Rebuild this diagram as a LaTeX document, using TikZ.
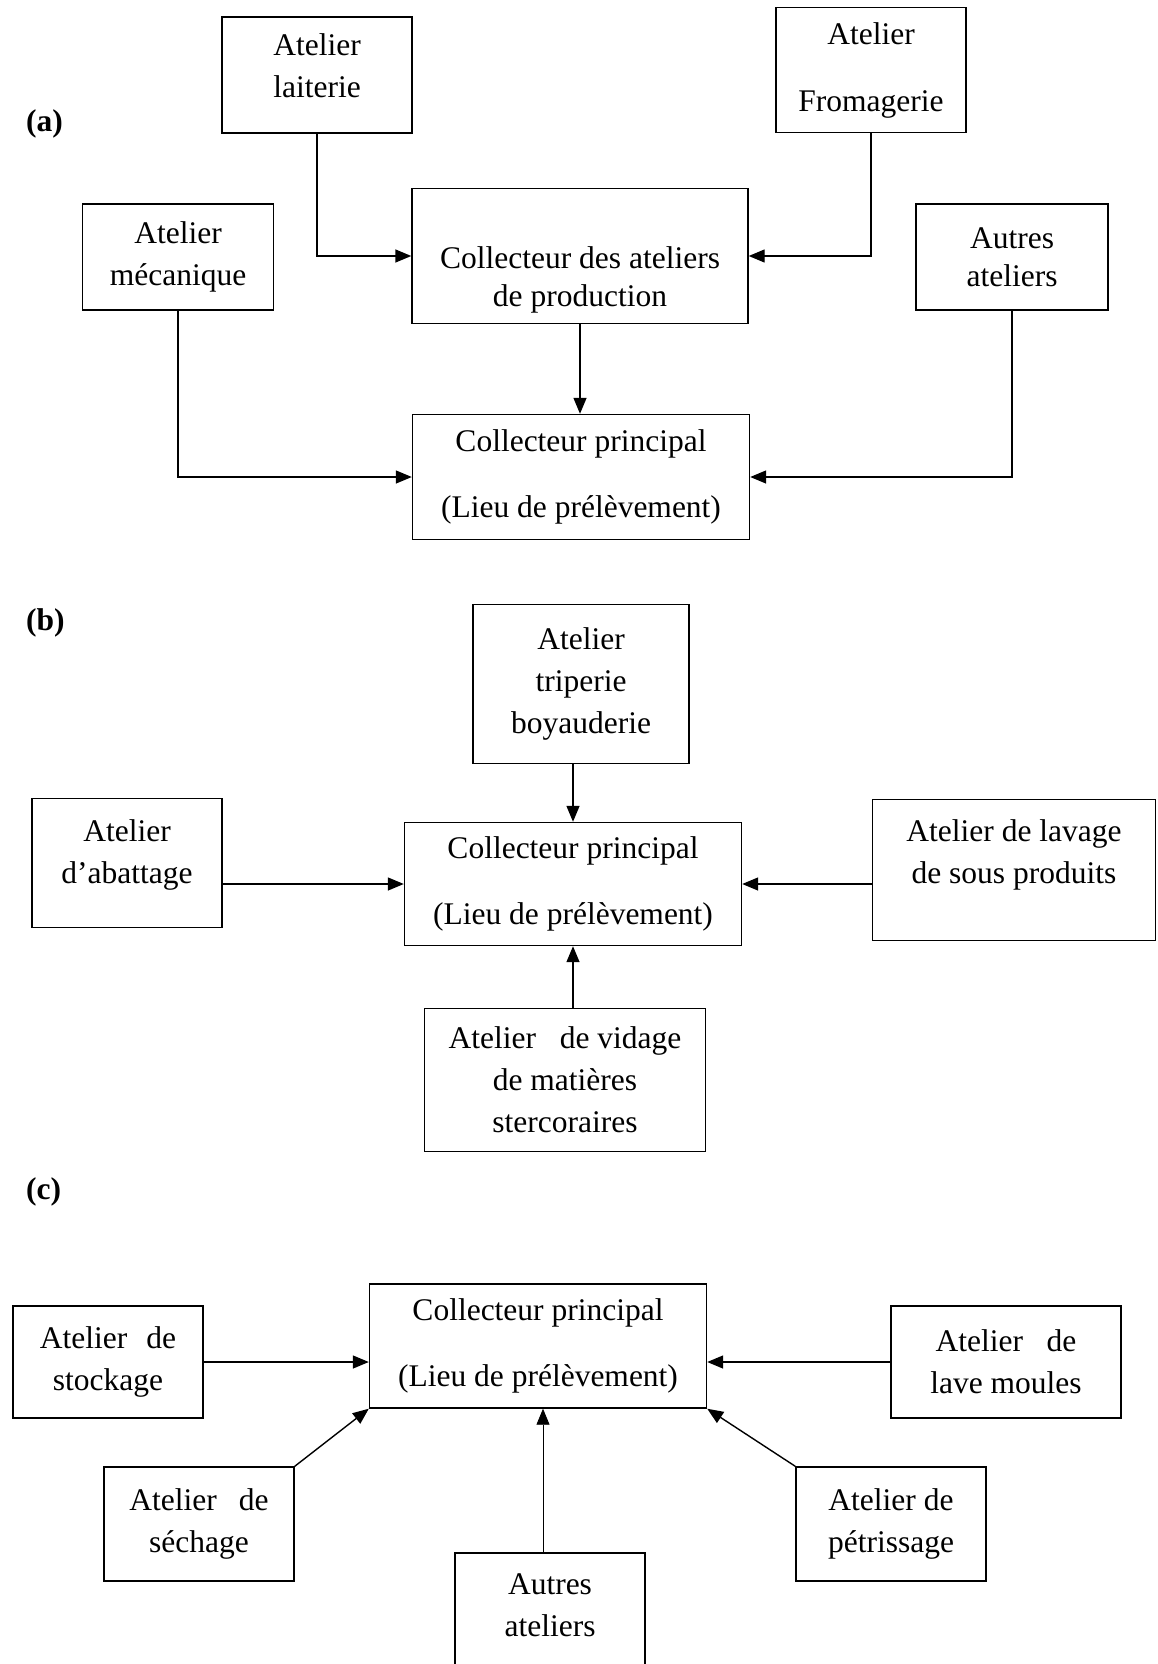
\documentclass[tikz,border=0pt]{standalone}
\usepackage{fontspec}
\setmainfont{Liberation Serif}
\usetikzlibrary{arrows.meta}

\begin{document}
\begin{tikzpicture}[x=1pt,y=-1pt,
  every node/.style={font=\fontsize{31.5}{42}\selectfont},
  box/.style={draw,line width=1.4pt,align=center,inner sep=0pt},
  txt/.style={align=center,inner sep=0pt},
  lab/.style={anchor=west,inner sep=0pt,font=\fontsize{31.5}{42}\selectfont\bfseries},
  flow/.style={line width=1.4pt,-{Triangle[length=16pt,width=13pt]}}]
\useasboundingbox (0,0) rectangle (1157,1664);
% (a)
\node[lab] (la) at (26,124) {(a)};
\node[box,minimum width=190pt,minimum height=116pt] (Laiterie) at (317,75) {Atelier\\laiterie\rule[-19pt]{0pt}{19pt}};
\node[box,minimum width=190pt,minimum height=125pt] (Fromagerie) at (871,70) {Atelier\\[25pt]Fromagerie};
\node[box,minimum width=191pt,minimum height=106pt] (Mecanique) at (178,257) {Atelier\\mécanique};
\node[box,minimum width=336pt,minimum height=135pt] (CollProd) at (580,256) {\rule{0pt}{70pt}Collecteur des ateliers\\[-4pt]de production};
\node[box,minimum width=192pt,minimum height=106pt] (AutresA) at (1012,257) {Autres\\[-4pt]ateliers};
\node[box,minimum width=337pt,minimum height=125pt] (PrincA) at (581,477) {Collecteur principal\\[24pt](Lieu de prélèvement)};
\draw[flow] (Laiterie) |- (CollProd);
\draw[flow] (Fromagerie) |- (CollProd);
\draw[flow] (CollProd.south) -- (CollProd.south |- PrincA.north);
\draw[flow] (Mecanique) |- (PrincA);
\draw[flow] (AutresA) |- (PrincA);
% (b)
\node[lab] (lb) at (26,623) {(b)};
\node[box,minimum width=216pt,minimum height=159pt] (Triperie) at (581,684) {Atelier\\triperie\\boyauderie};
\node[box,minimum width=190pt,minimum height=129pt] (Abattage) at (127,863) {Atelier\\d’abattage\rule[-22pt]{0pt}{22pt}};
\node[box,minimum width=337pt,minimum height=123pt] (PrincB) at (573,884) {Collecteur principal\\[24pt](Lieu de prélèvement)};
\node[box,minimum width=283pt,minimum height=141pt] (Lavage) at (1014,870) {Atelier de lavage\\de sous produits\rule[-37pt]{0pt}{37pt}};
\node[box,minimum width=281pt,minimum height=143pt] (Vidage) at (565,1080) {Atelier\hspace{0.75em}de vidage\\de matières\\stercoraires};
\draw[flow] (Triperie.south -| PrincB) -- (PrincB);
\draw[flow] (Vidage.north -| PrincB) -- (PrincB);
\draw[flow] (Abattage.east |- PrincB) -- (PrincB);
\draw[flow] (Lavage.west |- PrincB) -- (PrincB);
% (c)
\node[lab] (lc) at (26,1192) {(c)};
\node[box,minimum width=337pt,minimum height=124pt] (PrincC) at (538,1346) {Collecteur principal\\[24pt](Lieu de prélèvement)};
\node[box,minimum width=190pt,minimum height=112pt] (Stockage) at (108,1362) {Atelier\hspace{0.6em}de\\stockage};
\node[box,minimum width=230pt,minimum height=112pt] (Moules) at (1006,1362) {Atelier\hspace{0.75em}de\\lave moules};
\node[box,minimum width=190pt,minimum height=114pt] (Sechage) at (199,1524) {Atelier\hspace{0.7em}de\\séchage};
\node[box,minimum width=190pt,minimum height=114pt] (Petrissage) at (891,1524) {Atelier de\\pétrissage};
\node[txt] (AutresC) at (550,1605) {Autres\\ateliers};
\draw[line width=1.4pt] (AutresC.center) ++(-95,110) |- ++(190,-162) -- ++(0,162);
\coordinate (AutresTop) at (543,1553);
\draw[flow] (Stockage) -- (Stockage -| PrincC.west);
\draw[flow] (Moules) -- (Moules -| PrincC.east);
\draw[flow] (Sechage.north east) -- (PrincC.south west);
\draw[flow] (Petrissage.north west) -- (PrincC.south east);
\draw[flow,line width=0.8pt] (AutresTop) -- (AutresTop |- PrincC.south);
\end{tikzpicture}
\end{document}
